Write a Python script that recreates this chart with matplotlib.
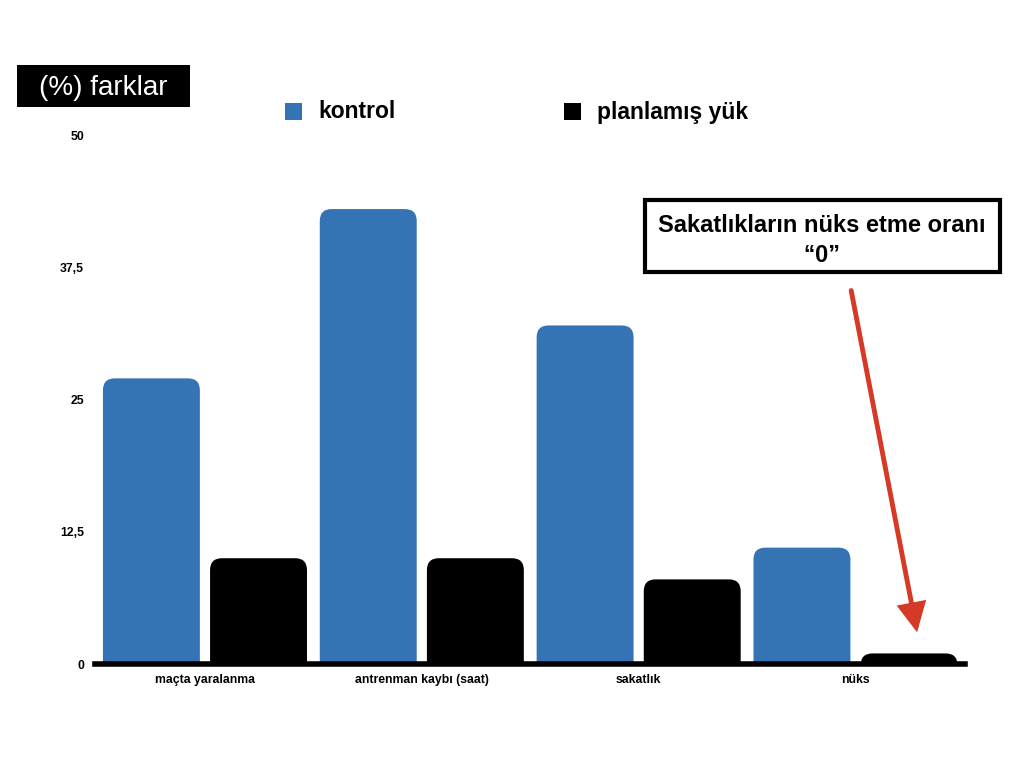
import numpy as np
import matplotlib.pyplot as plt
from matplotlib.patches import FancyBboxPatch, Rectangle

plt.rcParams['font.family'] = ['Liberation Sans', 'DejaVu Sans']

categories = ["maçta yaralanma", "antrenman kaybı (saat)", "sakatlık", "nüks"]
kontrol = [27, 43, 32, 11]
planlamis = [10, 10, 8, 1]
yticks = [0, 12.5, 25, 37.5, 50]
ytick_labels = ["0", "12,5", "25", "37,5", "50"]

blue = "#3474b4"
fig = plt.figure(figsize=(10.24, 7.68), dpi=100)
ax = fig.add_axes([0.0928, 0.1354, 0.8496, 0.6888])

x = np.arange(len(categories))
w = 0.447
off = 0.247
b1 = ax.bar(x - off, kontrol, w, color=blue)
b2 = ax.bar(x + off, planlamis, w, color="black")

ax.set_xlim(-0.507, 3.505)
ax.set_ylim(0, 50)

# rounded tops: swap bars for rounded boxes (bottom goes below axis and is clipped)
xpp = 4.012 / 870
ypp = 50 / 529
asp = ypp / xpp
for bars in (b1, b2):
    for r in bars:
        bx, by, bw, bh = r.get_x(), r.get_y(), r.get_width(), r.get_height()
        r.set_visible(False)
        p = FancyBboxPatch((bx, by - 2), bw, bh + 2,
                           boxstyle="round,pad=0,rounding_size=0.055",
                           mutation_aspect=asp, facecolor=r.get_facecolor(),
                           edgecolor="none", clip_on=True)
        ax.add_patch(p)

for s in ["left", "right", "top"]:
    ax.spines[s].set_visible(False)
ax.spines["bottom"].set_linewidth(4)
ax.spines["bottom"].set_zorder(5)

ax.set_yticks(yticks)
ax.set_yticklabels(ytick_labels, fontsize=8.8, fontweight="bold")
ax.set_xticks(x)
ax.set_xticklabels(categories, fontsize=8.8, fontweight="bold")
ax.tick_params(axis="both", length=0)
ax.tick_params(axis="y", pad=8)
ax.tick_params(axis="x", pad=7)

# title box
fig.patches.append(Rectangle((17 / 1024, 1 - 107 / 768), 173 / 1024, 42 / 768,
                             transform=fig.transFigure, facecolor="black"))
fig.text(103 / 1024, 1 - 88 / 768, "(%) farklar", color="white", fontsize=20,
         ha="center", va="center")

# legend
fig.patches.append(Rectangle((285 / 1024, 1 - 120 / 768), 17 / 1024, 17 / 768,
                             transform=fig.transFigure, facecolor=blue))
fig.text(318 / 1024, 1 - 112 / 768, "kontrol", fontsize=16.5, fontweight="bold", va="center")
fig.patches.append(Rectangle((564 / 1024, 1 - 120 / 768), 17 / 1024, 17 / 768,
                             transform=fig.transFigure, facecolor="black"))
fig.text(597 / 1024, 1 - 112 / 768, "planlamış yük", fontsize=16.5, fontweight="bold", va="center")

# note box
fig.patches.append(Rectangle((645 / 1024, 1 - 272 / 768), 355 / 1024, 72 / 768,
                             transform=fig.transFigure, facecolor="white",
                             edgecolor="black", linewidth=3))
fig.text(822 / 1024, 1 - 225 / 768, "Sakatlıkların nüks etme oranı", fontsize=17,
         fontweight="bold", ha="center", va="center")
fig.text(822 / 1024, 1 - 255 / 768, "‘‘0”", fontsize=17,
         fontweight="bold", ha="center", va="center")

# red arrow
ax.annotate("", xy=(3.284, 3.0), xytext=(2.98, 35.3), xycoords="data",
            arrowprops=dict(arrowstyle="-|>,head_length=1.6,head_width=0.8",
                            color="#d63a26", lw=3.5, shrinkA=0, shrinkB=0,
                            joinstyle="miter"),
            annotation_clip=False)

fig.savefig("out.png", dpi=100)
